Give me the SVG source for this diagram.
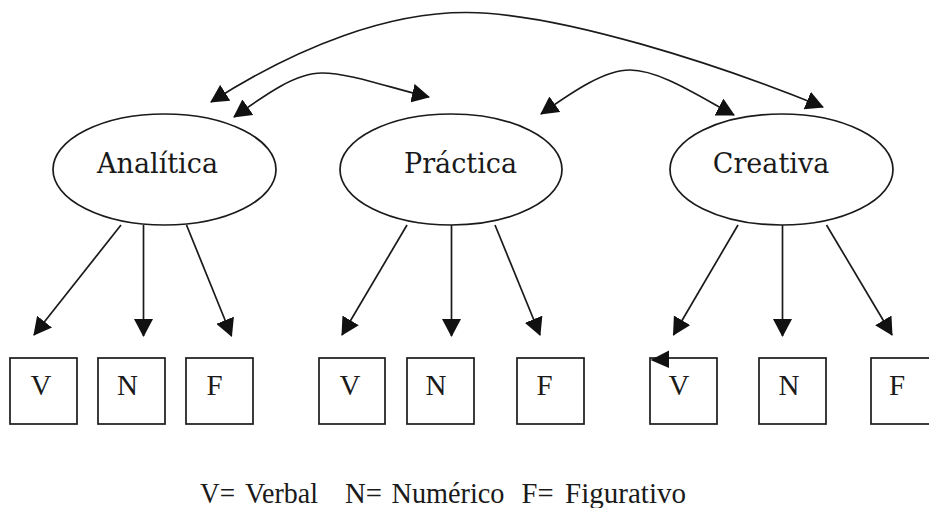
<svg xmlns="http://www.w3.org/2000/svg" width="929" height="508" viewBox="0 0 929 508">
  <style>
    .oval { fill: #fff; stroke: #1a1a1a; stroke-width: 1.7; }
    .box { fill: #fff; stroke: #1a1a1a; stroke-width: 1.7; }
    .link { fill: none; stroke: #1a1a1a; stroke-width: 1.7; }
    .head { fill: #111; }
    .title { font-family: "DejaVu Serif", "Liberation Serif", serif; font-size: 27px; fill: #1a1a1a; text-anchor: middle; }
    .letter { font-family: "Liberation Serif", "Times New Roman", serif; font-size: 29px; fill: #1a1a1a; text-anchor: middle; }
    .legend { font-family: "Liberation Serif", "Times New Roman", serif; font-size: 30px; fill: #1a1a1a; }
  </style>
  <defs>
    <marker id="arrow" viewBox="0 0 18 19" markerWidth="18" markerHeight="19" refX="17" refY="9.5" orient="auto-start-reverse" markerUnits="userSpaceOnUse">
      <path class="head" d="M0,0 L18,9.5 L0,19 Z"/>
    </marker>
  </defs>

  <!-- ability ovals -->
  <g id="analitica">
    <ellipse class="oval" cx="164.5" cy="169.5" rx="111.5" ry="55.5"/>
    <text class="title" x="157.5" y="172.5">Analítica</text>
  </g>
  <g id="practica">
    <ellipse class="oval" cx="451" cy="169.5" rx="111" ry="55.5"/>
    <text class="title" x="460.5" y="172.5">Práctica</text>
  </g>
  <g id="creativa">
    <ellipse class="oval" cx="781.5" cy="169.5" rx="111.5" ry="55.5"/>
    <text class="title" x="771" y="172.5">Creativa</text>
  </g>

  <!-- V / N / F boxes -->
  <g id="analitica-v"><rect class="box" x="10" y="358" width="67" height="66"/><text class="letter" x="41" y="395">V</text></g>
  <g id="analitica-n"><rect class="box" x="98" y="358" width="67" height="66"/><text class="letter" x="127.5" y="395">N</text></g>
  <g id="analitica-f"><rect class="box" x="186" y="358" width="67" height="66"/><text class="letter" x="214.5" y="395">F</text></g>

  <g id="practica-v"><rect class="box" x="319" y="358" width="66" height="66"/><text class="letter" x="350" y="395">V</text></g>
  <g id="practica-n"><rect class="box" x="407" y="358" width="67" height="66"/><text class="letter" x="436" y="395">N</text></g>
  <g id="practica-f"><rect class="box" x="517" y="358" width="67" height="66"/><text class="letter" x="544.5" y="395">F</text></g>

  <g id="creativa-v"><rect class="box" x="650" y="358" width="67" height="66"/><text class="letter" x="679" y="395">V</text></g>
  <g id="creativa-n"><rect class="box" x="759" y="358" width="67" height="66"/><text class="letter" x="789" y="395">N</text></g>
  <g id="creativa-f"><rect class="box" x="871" y="358" width="67" height="66"/><text class="letter" x="897" y="395">F</text></g>

  <!-- connectors, drawn over the shapes -->
  <g id="connectors">
    <!-- arcs between the three abilities -->
    <path class="link" d="M211,102 C300,45 390,12 467,12.5 C560,13 720,65 823,107" marker-start="url(#arrow)" marker-end="url(#arrow)"/>
    <path class="link" d="M234,117 C265,95 295,73 322,73 C350,73 390,88 429,97" marker-start="url(#arrow)" marker-end="url(#arrow)"/>
    <path class="link" d="M541,114 C575,90 605,70 630,70 C660,70 700,97 734,115" marker-start="url(#arrow)" marker-end="url(#arrow)"/>

    <!-- Analítica branches -->
    <line class="link" x1="121" y1="225" x2="34" y2="335" marker-end="url(#arrow)"/>
    <line class="link" x1="143.5" y1="225" x2="143.5" y2="336" marker-end="url(#arrow)"/>
    <line class="link" x1="186.5" y1="225" x2="231.5" y2="336" marker-end="url(#arrow)"/>

    <!-- Práctica branches -->
    <line class="link" x1="407" y1="225" x2="342" y2="335" marker-end="url(#arrow)"/>
    <line class="link" x1="451.5" y1="225" x2="451.5" y2="336" marker-end="url(#arrow)"/>
    <line class="link" x1="495" y1="225" x2="540" y2="335" marker-end="url(#arrow)"/>

    <!-- Creativa branches -->
    <line class="link" x1="738" y1="225" x2="673.5" y2="335" marker-end="url(#arrow)"/>
    <line class="link" x1="782.5" y1="225" x2="782.5" y2="336" marker-end="url(#arrow)"/>
    <line class="link" x1="826.5" y1="225" x2="892" y2="335" marker-end="url(#arrow)"/>

    <!-- loose arrowhead on the corner of the last V box -->
    <polygon class="head" points="650.5,360 669,350.5 669,368"/>
  </g>

  <!-- key -->
  <g id="legend">
    <text class="legend" y="503"><tspan x="200" textLength="35" lengthAdjust="spacingAndGlyphs">V=</tspan><tspan x="245" textLength="73" lengthAdjust="spacingAndGlyphs">Verbal</tspan><tspan x="345" textLength="37" lengthAdjust="spacingAndGlyphs">N=</tspan><tspan x="391.5" textLength="113" lengthAdjust="spacingAndGlyphs">Numérico</tspan><tspan x="521.5" textLength="32" lengthAdjust="spacingAndGlyphs">F=</tspan><tspan x="565" textLength="121" lengthAdjust="spacingAndGlyphs">Figurativo</tspan></text>
  </g>
</svg>
